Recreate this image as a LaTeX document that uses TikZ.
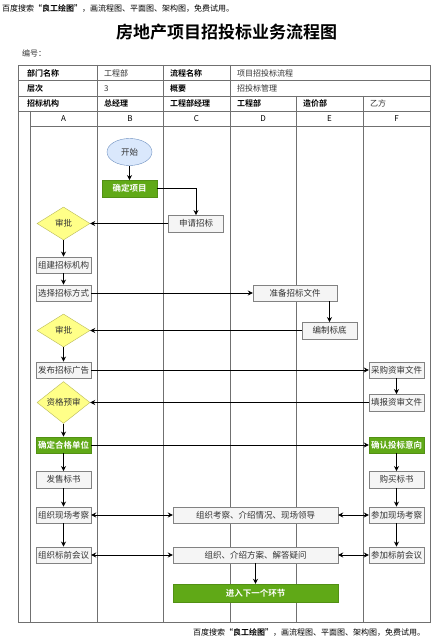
\documentclass[tikz,border=0pt]{standalone}
\usepackage{fontspec}
\setmainfont{Noto Sans CJK SC}[BoldFont={Noto Sans CJK SC Bold}]
\usetikzlibrary{shapes.geometric,arrows.meta,positioning}
\definecolor{laneGray}{RGB}{112,112,112}
\definecolor{boxLine}{RGB}{130,130,130}
\definecolor{boxFill}{RGB}{245,245,245}
\definecolor{keyGreen}{RGB}{96,169,23}
\definecolor{checkFill}{RGB}{255,255,136}
\definecolor{checkLine}{RGB}{185,185,90}
\definecolor{startFill}{RGB}{218,232,252}
\definecolor{startLine}{RGB}{108,142,191}
\definecolor{textGray}{RGB}{51,51,51}

\begin{document}
\begin{tikzpicture}[x=1pt, y=-1pt,
        lane/.style={draw=laneGray, line width=0.8pt},
        cell/.style={anchor=west, inner sep=0pt, font=\fontsize{8}{9}\selectfont, text=textGray},
        headcell/.style={cell, font=\fontsize{8}{9}\selectfont\bfseries, text=black},
        task/.style={rectangle, draw=boxLine, fill=boxFill, minimum width=55pt, minimum height=16.5pt, inner sep=0.5pt, font=\fontsize{8.5}{10}\selectfont, text=textGray},
        widetask/.style={task, minimum width=165pt},
        milestone/.style={task, draw=keyGreen!85!black, fill=keyGreen, text=white, font=\fontsize{8.5}{10}\selectfont\bfseries},
        decision/.style={diamond, draw=checkLine, fill=checkFill, minimum width=53pt, minimum height=33pt, inner sep=0pt, font=\fontsize{8.5}{10}\selectfont, text=textGray},
        terminal/.style={ellipse, draw=startLine, fill=startFill, minimum width=45pt, minimum height=27pt, font=\fontsize{8.5}{10}\selectfont, text=textGray},
        arrow/.style={-{Stealth[length=5pt,width=5pt]}, line width=0.8pt},
        twoway/.style={{Stealth[length=5pt,width=5pt]}-{Stealth[length=5pt,width=5pt]}, line width=0.8pt}
    ]
        \useasboundingbox (0,0) rectangle (445,644);
        \fill[white] (0,0) rectangle (445,644);

        % Notes and title
        \node[cell, text=black] (topNote) at (2,8) {百度搜索{\bfseries “良工绘图”}，画流程图、平面图、架构图，免费试用。};
        \node[font=\fontsize{17}{18}\selectfont\bfseries] (title) at (226.5,32) {房地产项目招投标业务流程图};
        \node[cell] (number) at (22,53) {编号：};
        \node[cell, text=black] (footNote) at (193,632) {百度搜索{\bfseries “良工绘图”}，画流程图、平面图、架构图，免费试用。};

        % Table frame and swimlanes
        \draw[lane] (18,65) rectangle (430,622);
        \foreach \y in {80.5,96,111}
            \draw[lane] (18,\y) -- (430,\y);
        \draw[lane] (30,126.5) -- (430,126.5);
        \foreach \x in {97,163,230}
            \draw[lane] (\x,65) -- (\x,622);
        \foreach \x in {296,363}
            \draw[lane] (\x,96) -- (\x,622);
        \draw[lane] (30,111) -- (30,622);

        % Header cells
        \node[headcell] (deptKey) at (27,73) {部门名称};
        \node[cell] (deptVal) at (104,73) {工程部};
        \node[headcell] (flowKey) at (170,73) {流程名称};
        \node[cell] (flowVal) at (237,73) {项目招投标流程};
        \node[headcell] (levelKey) at (27,88.3) {层次};
        \node[cell] (levelVal) at (104,88.3) {3};
        \node[headcell] (sumKey) at (170,88.3) {概要};
        \node[cell] (sumVal) at (237,88.3) {招投标管理};
        \node[headcell] (roleA) at (27,103.5) {招标机构};
        \node[headcell] (roleB) at (104,103.5) {总经理};
        \node[headcell] (roleC) at (170,103.5) {工程部经理};
        \node[headcell] (roleD) at (237,103.5) {工程部};
        \node[headcell] (roleE) at (303,103.5) {造价部};
        \node[cell] (roleF) at (370,103.5) {乙方};
        \foreach \x/\c in {63.5/A,130/B,196.5/C,263/D,329.5/E,396.5/F}
            \node[font=\fontsize{8}{9}\selectfont, inner sep=0pt] (lane\c) at (\x,119) {\c};

        % Project start
        \node[terminal] (start) at (129.5,152) {开始};
        \node[milestone] (project) at (129.5,188.5) {确定项目};
        \node[task] (apply) at (196,223.5) {申请招标};
        \node[decision] (approveA) at (63.5,223.5) {审批};

        % Bidding documents
        \node[task] (agency) at (63.5,265) {组建招标机构};
        \node[task] (method) at (63.5,293) {选择招标方式};
        \node[task, minimum width=84pt] (prepare) at (295,293) {准备招标文件};
        \node[task] (baseline) at (329.5,330.5) {编制标底};
        \node[decision] (approveB) at (63.5,330.5) {审批};

        % Prequalification
        \node[task] (notice) at (63.5,370) {发布招标广告};
        \node[task] (buyDocs) at (396.5,370) {采购资审文件};
        \node[task] (fillDocs) at (396.5,402.5) {填报资审文件};
        \node[decision] (prequal) at (63.5,402.5) {资格预审};
        \node[milestone] (qualified) at (63.5,445) {确定合格单位};
        \node[milestone] (intent) at (396.5,445) {确认投标意向};

        % Tender documents, site visit and meeting
        \node[task] (sell) at (63.5,479.5) {发售标书};
        \node[task] (purchase) at (396.5,479.5) {购买标书};
        \node[task] (tour) at (63.5,515) {组织现场考察};
        \node[widetask] (tourInfo) at (255.5,515) {组织考察、介绍情况、现场领导};
        \node[task] (joinTour) at (396.5,515) {参加现场考察};
        \node[task] (meeting) at (63.5,555) {组织标前会议};
        \node[widetask] (meetInfo) at (255.5,555) {组织、介绍方案、解答疑问};
        \node[task] (joinMeet) at (396.5,555) {参加标前会议};
        \node[milestone, minimum width=165pt, minimum height=18pt] (next) at (255.5,593) {进入下一个环节};

        % Arrows
        \draw[arrow] (start) -- (project);
        \draw[arrow] (project.east) -| (apply.north);
        \draw[arrow] (apply) -- (approveA);
        \draw[arrow] (approveA) -- (agency);
        \draw[arrow] (agency) -- (method);
        \draw[arrow] (method) -- (prepare);
        \draw[arrow] (baseline.north |- prepare.south) -- (baseline.north);
        \draw[arrow] (baseline) -- (approveB);
        \draw[arrow] (approveB) -- (notice);
        \draw[arrow] (notice) -- (buyDocs);
        \draw[arrow] (buyDocs) -- (fillDocs);
        \draw[arrow] (fillDocs) -- (prequal);
        \draw[arrow] (prequal) -- (qualified);
        \draw[arrow] (qualified) -- (intent);
        \draw[arrow] (qualified) -- (sell);
        \draw[arrow] (intent) -- (purchase);
        \draw[arrow] (sell) -- (tour);
        \draw[arrow] (purchase) -- (joinTour);
        \draw[twoway] (tour) -- (tourInfo);
        \draw[twoway] (tourInfo) -- (joinTour);
        \draw[arrow] (tour) -- (meeting);
        \draw[arrow] (joinTour) -- (joinMeet);
        \draw[twoway] (meeting) -- (meetInfo);
        \draw[twoway] (meetInfo) -- (joinMeet);
        \draw[arrow] (meetInfo) -- (next);

    \end{tikzpicture}
\end{document}
